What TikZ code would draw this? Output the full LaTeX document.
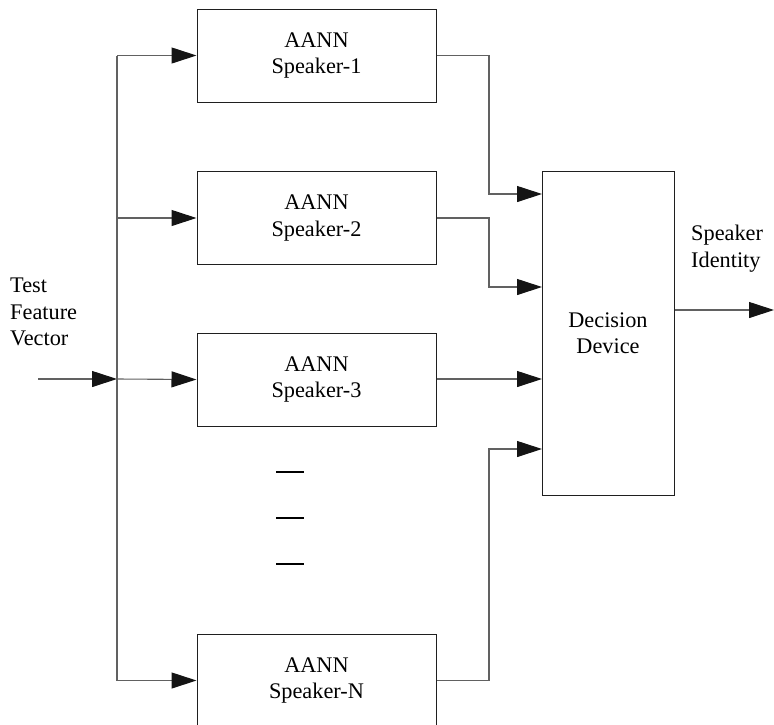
\documentclass[tikz,border=0pt]{standalone}
\usepackage{fontspec}
\setmainfont{Liberation Serif}
\usetikzlibrary{arrows.meta}
\begin{document}
\begin{tikzpicture}[x=1pt,y=-1pt,
  font=\fontsize{22.3}{26.5}\selectfont,
  blockbox/.style={draw=black!88,line width=1pt,minimum width=239pt,minimum height=93pt,align=center,inner sep=0pt},
  link/.style={draw=black!62,line width=1.1pt},
  arr/.style={link,-{Triangle[length=25pt,width=16pt,color=black!92]}},
  lbl/.style={align=left,inner sep=0pt,anchor=west}]
\clip (0,0) rectangle (774,724);
\useasboundingbox (0,0) rectangle (774,724);

% AANN models
\node[blockbox] (b1) at (316.5,55.5) {AANN\\Speaker-1};
\node[blockbox] (b2) at (316.5,218) {AANN\\Speaker-2};
\node[blockbox] (b3) at (316.5,379.5) {AANN\\Speaker-3};
\node[blockbox] (bn) at (316.5,680.5) {AANN\\Speaker-N};

% decision stage
\node[draw=black!88,line width=1pt,minimum width=132pt,minimum height=324pt,align=center,inner sep=0pt]
  (dd) at (608,333) {Decision\\Device};

% labels
\node[lbl] (tin) at (10,312) {Test\\Feature\\Vector};
\node[lbl] (tout) at (691,248.5) {Speaker\\Identity};

% junction points
\coordinate (src) at (38,379);
\coordinate (bus1) at (117,55.5);
\coordinate (bus2) at (117,218);
\coordinate (bus3) at (117,379);
\coordinate (busn) at (117,680.5);
\coordinate (jx) at (489,0);
\coordinate (d1) at (542,194);
\coordinate (d2) at (542,287);
\coordinate (d3) at (542,379);
\coordinate (dn) at (542,449);
\coordinate (out) at (774,310);

% input distribution
\draw[arr] (src) -- (bus3);
\draw[link] (bus1) -- (busn);
\draw[arr] (bus1) -- (b1.west);
\draw[arr] (bus2) -- (b2.west);
\draw[arr] (bus3) -- (b3.west);
\draw[arr] (busn) -- (bn.west);

% model outputs into decision device
\draw[arr] (b1.east) -- (b1.east -| jx) |- (d1);
\draw[arr] (b2.east) -- (b2.east -| jx) |- (d2);
\draw[arr] (b3.east |- d3) -- (d3);
\draw[arr] (bn.east) -- (bn.east -| jx) |- (dn);

% final output
\draw[arr] (dd.east |- out) -- (out);

% ellipsis marks between models
\draw[black,line width=1.2pt] (276,472) -- (304,472);
\draw[black,line width=1.2pt] (276,518) -- (304,518);
\draw[black,line width=1.4pt] (276,564) -- (304,564);
\end{tikzpicture}
\end{document}
